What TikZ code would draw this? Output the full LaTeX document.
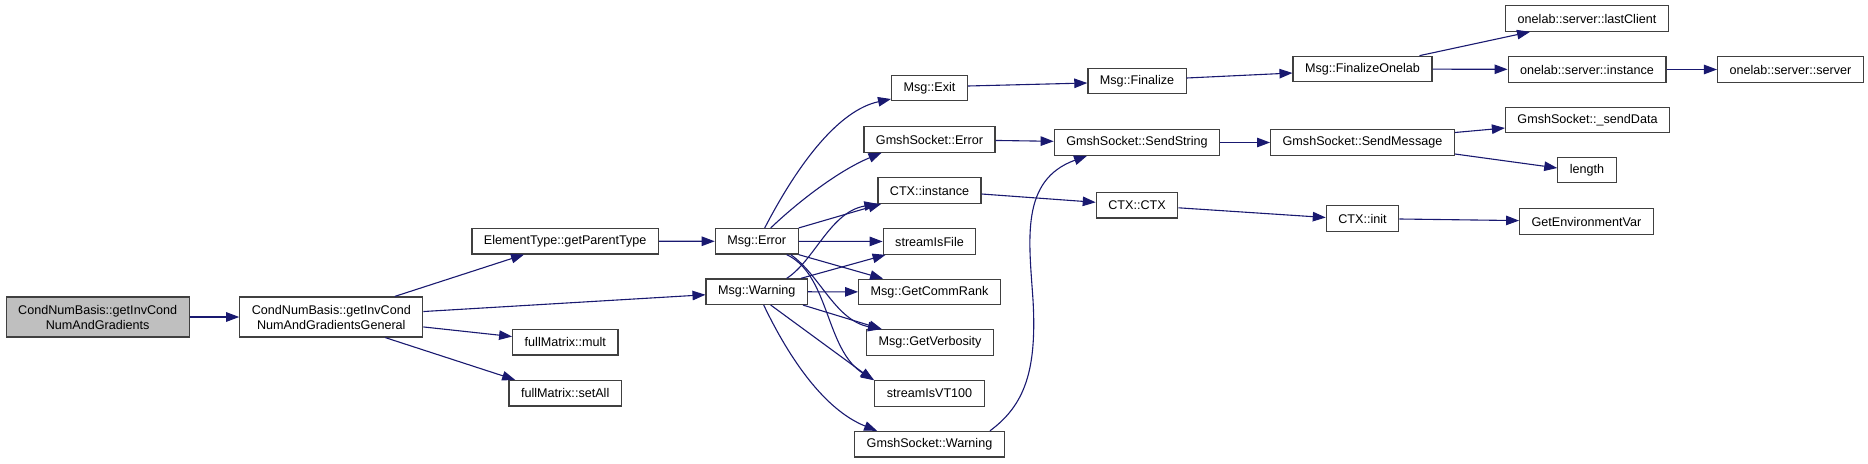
\documentclass[tikz,border=0pt]{standalone}
\usepackage{fontspec}
\setmainfont{Liberation Sans}
\usepackage{tikz}
\usetikzlibrary{arrows.meta}
\definecolor{edgeColor}{HTML}{191970}
\definecolor{borderColor}{HTML}{404040}
\definecolor{rootColor}{HTML}{BFBFBF}

\begin{document}
\begin{tikzpicture}[
		x=1pt, y=-1pt,
		call/.style={-{Triangle[length=13pt, width=9.5pt]}, draw=edgeColor, line width=1.1pt},
		fn/.style={rectangle, draw=borderColor, line width=1.2pt, fill=white, inner xsep=12pt, inner ysep=0pt, minimum height=25.5pt, font=\fontsize{12.6}{15}\selectfont},
		entry/.style={fn, minimum height=40pt, align=center},
		root/.style={entry, fill=rootColor},
	]
	\useasboundingbox (0, 0) rectangle (1868, 463);
	% Function nodes
	\node[root] (cond basis) at (97.7, 317) {CondNumBasis::getInvCond\\NumAndGradients};
	\node[entry] (cond general) at (331.3, 317) {CondNumBasis::getInvCond\\NumAndGradientsGeneral};
	\node[fn] (parent type) at (565.2, 241.2) {ElementType::getParentType};
	\node[fn] (full mult) at (565.3, 342.3) {fullMatrix::mult};
	\node[fn] (full setall) at (565.2, 393.2) {fullMatrix::setAll};
	\node[fn] (msg error) at (756.7, 241.3) {Msg::Error};
	\node[fn] (msg warning) at (756.7, 291.7) {Msg::Warning};
	\node[fn] (msg exit) at (929.5, 88) {Msg::Exit};
	\node[fn] (socket error) at (929.5, 139.5) {GmshSocket::Error};
	\node[fn] (ctx instance) at (929.5, 190.5) {CTX::instance};
	\node[fn] (stream file) at (929.5, 241.5) {streamIsFile};
	\node[fn] (comm rank) at (929.5, 292) {Msg::GetCommRank};
	\node[fn] (verbosity) at (930, 342.5) {Msg::GetVerbosity};
	\node[fn] (stream vt) at (929.5, 393.5) {streamIsVT100};
	\node[fn] (socket warning) at (929.5, 444.2) {GmshSocket::Warning};
	\node[fn] (finalize) at (1137, 81) {Msg::Finalize};
	\node[fn] (send string) at (1137, 142.5) {GmshSocket::SendString};
	\node[fn] (ctx ctx) at (1137, 205.3) {CTX::CTX};
	\node[fn] (finalize onelab) at (1362.5, 69) {Msg::FinalizeOnelab};
	\node[fn] (send message) at (1362.5, 142.5) {GmshSocket::SendMessage};
	\node[fn] (ctx init) at (1362.5, 218.5) {CTX::init};
	\node[fn] (last client) at (1587, 18.5) {onelab::server::lastClient};
	\node[fn] (server instance) at (1587, 69.5) {onelab::server::instance};
	\node[fn] (send data) at (1587.5, 120) {GmshSocket::\_sendData};
	\node[fn] (length) at (1587, 170) {length};
	\node[fn] (env var) at (1586.5, 221.5) {GetEnvironmentVar};
	\node[fn] (server) at (1790.5, 69.5) {onelab::server::server};
	% Calls
	\draw[call] (cond basis) -- (cond general);
	\draw[call] (cond general) -- (parent type);
	\draw[call] (cond general) -- (msg warning);
	\draw[call] (cond general) -- (full mult);
	\draw[call] ([xshift=54pt]cond general.south) -- ([xshift=-50pt]full setall.north);
	\draw[call] (parent type) -- (msg error);
	\draw[call] ([xshift=8pt]msg error.north) .. controls (800, 160) and (840, 110) .. ([yshift=-11pt]msg exit.west);
	\draw[call] ([xshift=14pt]msg error.north) .. controls (800, 200) and (840, 170) .. ([xshift=-48pt]socket error.south);
	\draw[call] (msg error.north east) -- ([xshift=4pt]ctx instance.south west);
	\draw[call] (msg error) -- (stream file);
	\draw[call] (msg error.south east) -- ([xshift=25pt]comm rank.north west);
	\draw[call] ([xshift=34pt]msg error.south) .. controls (820, 275) and (835, 320) .. ([xshift=15pt]verbosity.north west);
	\draw[call] ([xshift=30pt]msg error.south) .. controls (830, 275) and (825, 350) .. (stream vt.north west);
	\draw[call] ([xshift=30pt]msg warning.north) .. controls (815, 260) and (830, 212) .. (ctx instance.south west);
	\draw[call] ([xshift=-7pt]msg warning.north east) -- ([xshift=3pt]stream file.south west);
	\draw[call] (msg warning) -- (comm rank);
	\draw[call] ([xshift=-5pt]msg warning.south east) -- ([xshift=16pt]verbosity.north west);
	\draw[call] ([xshift=14pt]msg warning.south) -- ([xshift=-1pt]stream vt.north west);
	\draw[call] ([xshift=7pt]msg warning.south) .. controls (790, 360) and (825, 410) .. ([xshift=23pt]socket warning.north west);
	\draw[call] ([yshift=2pt]msg exit.east) -- ([yshift=-2pt]finalize.west);
	\draw[call] ([yshift=3pt]finalize.east) -- ([yshift=-4pt]finalize onelab.west);
	\draw[call] ([xshift=57pt]finalize onelab.north) -- ([xshift=-57pt]last client.south);
	\draw[call] (finalize onelab) -- (server instance);
	\draw[call] (server instance) -- (server);
	\draw[call] (socket error) -- (send string);
	\draw[call] ([xshift=-15pt]socket warning.north east) .. controls (1025, 405) and (1037, 370) .. (1033, 300) .. controls (1029, 240) and (1020, 180) .. ([xshift=-50pt]send string.south);
	\draw[call] (send string) -- (send message);
	\draw[call] ([yshift=10pt]send message.east) -- ([yshift=-8pt]send data.west);
	\draw[call] ([yshift=-11.5pt]send message.east) -- ([yshift=2pt]length.west);
	\draw[call] ([yshift=-3.5pt]ctx instance.east) -- ([yshift=3pt]ctx ctx.west);
	\draw[call] ([yshift=-2.5pt]ctx ctx.east) -- ([yshift=1pt]ctx init.west);
	\draw[call] (ctx init) -- (env var);
\end{tikzpicture}
\end{document}
